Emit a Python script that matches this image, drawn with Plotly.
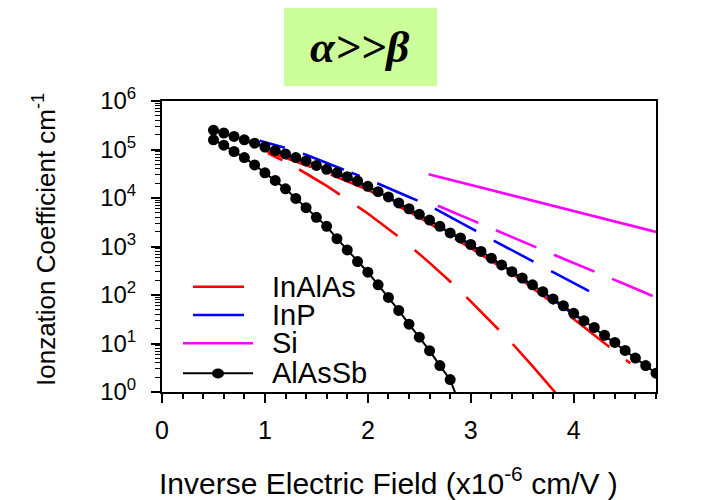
import plotly.graph_objects as go

# ---------------- data ----------------
# AlAsSb (markers every 0.1)
alassb_a_x = [0.5, 0.6, 0.7, 0.8, 0.9, 1.0, 1.1, 1.2, 1.3, 1.4, 1.5, 1.6, 1.7, 1.8, 1.9,
              2.0, 2.1, 2.2, 2.3, 2.4, 2.5, 2.6, 2.7, 2.8, 2.9, 3.0, 3.1, 3.2, 3.3, 3.4,
              3.5, 3.6, 3.7, 3.8, 3.9, 4.0, 4.1, 4.2, 4.3, 4.4, 4.5, 4.6, 4.7, 4.8]
alassb_a_y = [2.5e5, 2.19e5, 1.86e5, 1.58e5, 1.35e5, 1.12e5, 9.5e4, 8.1e4, 6.8e4, 5.8e4,
              4.7e4, 3.9e4, 3.3e4, 2.75e4, 2.24e4, 1.74e4, 1.35e4, 1.05e4, 7.9e3, 6.0e3,
              4.6e3, 3.5e3, 2.6e3, 1.9e3, 1.5e3, 1.1e3, 790, 575, 417, 302,
              224, 162, 117, 83, 60, 42, 29.5, 21.4, 14.8, 10.5, 7.2, 5.0, 3.5, 2.45]
alassb_b_x = [0.5, 0.6, 0.7, 0.8, 0.9, 1.0, 1.1, 1.2, 1.3, 1.4, 1.5, 1.6, 1.7, 1.8, 1.9,
              2.0, 2.1, 2.2, 2.3, 2.4, 2.5, 2.6, 2.7, 2.8, 2.9]
alassb_b_y = [1.58e5, 1.23e5, 9.1e4, 6.8e4, 4.8e4, 3.3e4, 2.3e4, 1.55e4, 9.8e3, 6.3e3,
              4.0e3, 2.6e3, 1.45e3, 850, 490, 295, 162, 89, 48, 25, 13.5, 7.1, 3.5, 1.8, 0.5]

# InAlAs
inalas_a_x = [1.0, 1.5, 2.0, 2.5, 3.0, 3.5, 3.9, 4.2, 4.55]
inalas_a_y = [9.5e4, 4.0e4, 1.48e4, 4.0e3, 930, 200, 47, 15, 3.9]
inalas_b_x = [1.03, 1.2, 1.4, 1.6, 1.8, 2.0, 2.2, 2.4, 2.6, 2.8, 3.0, 3.2, 3.4, 3.6, 3.8, 3.85]
inalas_b_y = [8.3e4, 5.6e4, 3.2e4, 1.78e4, 9.3e3, 4.8e3, 2.3e3, 1.07e3, 460, 190, 74, 27.5,
              10.2, 3.4, 1.1, 0.83]

# InP
inp_a_x = [0.95, 1.2, 1.4, 1.6, 1.8, 2.0, 2.2, 2.4, 2.6, 2.8, 3.0, 3.2, 3.4, 3.6, 3.8, 4.0, 4.15]
inp_a_y = [1.51e5, 1.07e5, 7.8e4, 5.2e4, 3.6e4, 2.45e4, 1.58e4, 1.05e4, 6.9e3, 4.0e3, 2.4e3,
           1.41e3, 850, 500, 295, 178, 120]
inp_b_x = [1.0, 1.5, 2.0, 2.5, 3.0, 3.5, 4.0, 4.2]
inp_b_y = [1.1e5, 4.6e4, 1.7e4, 4.5e3, 1.07e3, 219, 40, 21.4]

# Si
si_a_x = [2.59, 3.0, 3.5, 4.0, 4.5, 4.8]
si_a_y = [3.1e4, 1.86e4, 1.0e4, 5.4e3, 2.9e3, 2.0e3]
si_b_x = [2.68, 3.0, 3.5, 4.0, 4.5, 4.8]
si_b_y = [6.9e3, 3.55e3, 1.26e3, 457, 166, 89]

legend_names = ["InAlAs", "InP", "Si", "AlAsSb"]
x_ticks = [0, 1, 2, 3, 4]
y_tick_exps = [0, 1, 2, 3, 4, 5, 6]

# ---------------- styles ----------------
RED, BLUE, MAG, BLK = "#ff0000", "#0000ff", "#ff00ff", "#000000"
FONT = "Liberation Sans, Arial, sans-serif"

fig = go.Figure()

def line(x, y, color, dash="solid", width=2.6):
    fig.add_trace(go.Scatter(x=x, y=y, mode="lines", showlegend=False,
                             line=dict(color=color, width=width, dash=dash),
                             hoverinfo="skip"))

line(inalas_a_x, inalas_a_y, RED, "49px,21px")
line(inalas_b_x, inalas_b_y, RED, "16px,19px,48px,21px,50px,22px,49px,21px,46px,20px,70px,20px")
line(inp_b_x, inp_b_y, BLUE, "45px,19px")
line(inp_a_x, inp_a_y, BLUE, "26px,19px,44px,8px,9px,19px,44px,19px,47px,20px,45px,20px,45px,20px")
line(si_a_x, si_a_y, MAG, "solid")
line(si_b_x, si_b_y, MAG, "44px,19px")

for xs, ys in [(alassb_a_x, alassb_a_y), (alassb_b_x, alassb_b_y)]:
    fig.add_trace(go.Scatter(x=xs, y=ys, mode="lines+markers", showlegend=False,
                             line=dict(color=BLK, width=2),
                             marker=dict(color=BLK, size=11, line=dict(width=0)),
                             hoverinfo="skip"))

# ---------------- layout ----------------
L, R, T, B = 162, 62, 101, 108
W, H = 718, 500
pw, ph = W - L - R, H - T - B

def px(xp):
    return (xp - L) / pw

def py(yp):
    return (H - B - yp) / ph

fig.update_layout(
    width=W, height=H,
    margin=dict(l=L, r=R, t=T, b=B),
    paper_bgcolor="white", plot_bgcolor="white",
    font=dict(family=FONT, color="black"),
    showlegend=False,
)

fig.update_xaxes(
    range=[0, 4.8], showgrid=False, zeroline=False,
    showline=True, linecolor="black", linewidth=2, mirror=True,
    tickmode="array", tickvals=x_ticks, ticktext=[str(v) for v in x_ticks],
    ticks="outside", ticklen=9, tickwidth=1.5, tickcolor="black",
    tickfont=dict(size=25, family=FONT), ticklabelstandoff=6,
    minor=dict(ticks="outside", dtick=0.2, tick0=0, ticklen=5, tickwidth=1.5,
               tickcolor="black", showgrid=False),
)

fig.update_yaxes(
    type="log", range=[0, 6], showgrid=False, zeroline=False,
    showline=True, linecolor="black", linewidth=2, mirror=True,
    tickmode="array", tickvals=[10 ** e for e in y_tick_exps],
    ticktext=["10<sup>%d</sup>" % e for e in y_tick_exps],
    ticks="outside", ticklen=9, tickwidth=1.5, tickcolor="black",
    tickfont=dict(size=24, family=FONT), ticklabelstandoff=10,
    minor=dict(ticks="outside", dtick="D1", ticklen=5, tickwidth=1,
               tickcolor="black", showgrid=False),
)

# axis titles
fig.add_annotation(xref="paper", yref="paper", x=px(388), y=py(481),
                   text="Inverse Electric Field (x10<sup>-6</sup> cm/V )",
                   showarrow=False, xanchor="center", yanchor="middle",
                   font=dict(size=30, family=FONT, color="black"))
fig.add_annotation(xref="paper", yref="paper", x=px(44), y=py(240),
                   text="Ionzation Coefficient cm<sup>-1</sup>", textangle=-90,
                   showarrow=False, xanchor="center", yanchor="middle",
                   font=dict(size=26, family=FONT, color="black"))

# green title box
fig.add_shape(type="rect", xref="paper", yref="paper",
              x0=px(284), x1=px(437), y0=py(86), y1=py(8),
              fillcolor="#ccff99", line=dict(width=0), layer="below")
fig.add_annotation(xref="paper", yref="paper", x=px(359), y=py(47),
                   text="<b><i>α&gt;&gt;β</i></b>", showarrow=False,
                   xanchor="center", yanchor="middle",
                   font=dict(size=45, family="Liberation Serif, Times New Roman, serif",
                             color="black"))

# manual legend (decoration)
leg_colors = [RED, BLUE, MAG, BLK]
leg_rows = [286.7, 315, 343.3, 373.3]
leg_x0 = [193, 193, 183, 183]
leg_x1 = [244, 244, 253, 253]
for name, c, yr, a, b in zip(legend_names, leg_colors, leg_rows, leg_x0, leg_x1):
    fig.add_shape(type="line", xref="paper", yref="paper",
                  x0=px(a), x1=px(b), y0=py(yr), y1=py(yr),
                  line=dict(color=c, width=2.6 if c != BLK else 2))
    fig.add_annotation(xref="paper", yref="paper", x=px(270), y=py(yr),
                       text=name, showarrow=False, xanchor="left", yanchor="middle",
                       font=dict(size=29, family=FONT, color="black"))
fig.add_shape(type="circle", xref="paper", yref="paper",
              x0=px(212), x1=px(224), y0=py(378.5), y1=py(368.5),
              fillcolor=BLK, line=dict(width=0))

fig.write_html("out.html")
